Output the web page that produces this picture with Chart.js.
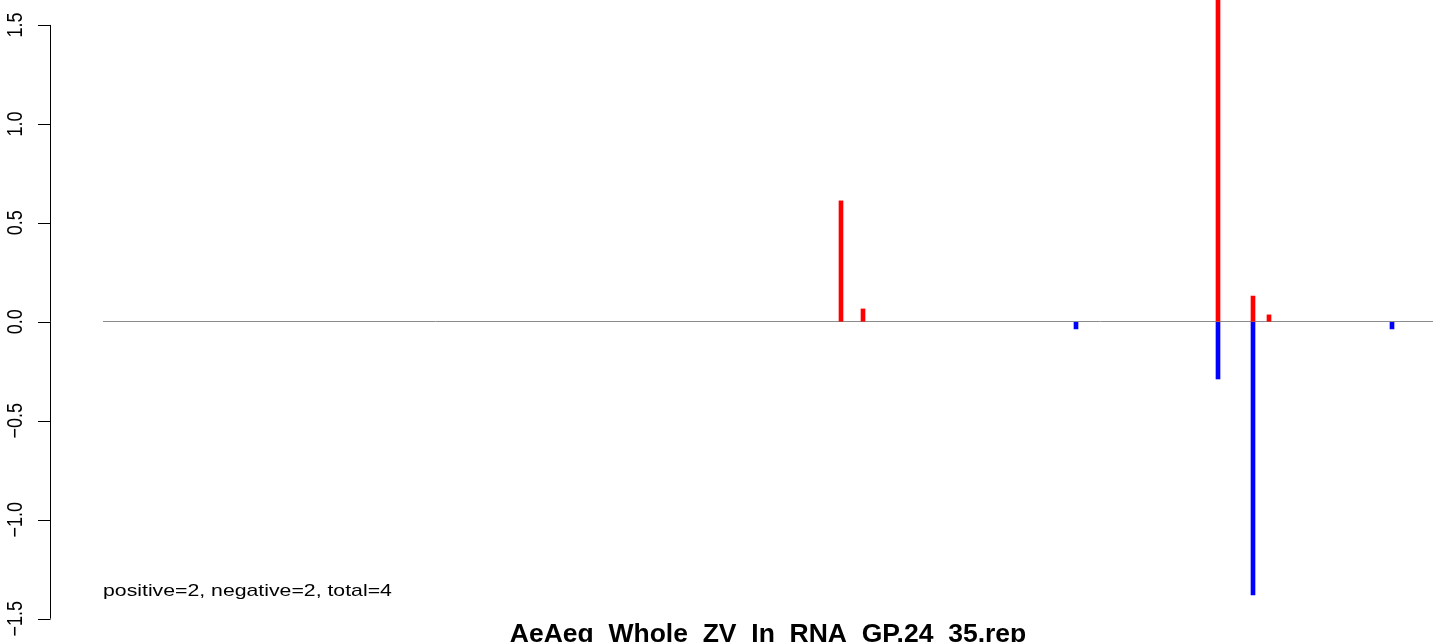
<!DOCTYPE html>
<html>
<head>
<meta charset="utf-8">
<script src="https://cdn.jsdelivr.net/npm/chart.js@4"></script>
<style>
  body { margin: 0; background: #fff; }
  canvas { display: block; }
</style>
</head>
<body>
<canvas id="chart" width="1433" height="642"></canvas>
<script>
// positions along the x range (0..1330) and values of each bar
const posX = [738, 760, 1115, 1150, 1166];
const posY = [0.611, 0.065, 2.4, 0.13, 0.035];
const negX = [973, 1115, 1150, 1289];
const negY = [-0.036, -0.289, -1.38, -0.036];
const yTicks = [-1.5, -1.0, -0.5, 0.0, 0.5, 1.0, 1.5];
const titleText = 'AeAeg_Whole_ZV_In_RNA_GP.24_35.rep';
const noteText = 'positive=2, negative=2, total=4';

const toPoints = (xs, ys) => xs.map((x, i) => ({ x: x, y: ys[i] }));

// R style left axis, rotated tick labels, note and title
const rAxis = {
  id: 'rAxis',
  afterDraw(chart) {
    const ctx = chart.ctx;
    const y = chart.scales.y;
    const ax = 50.5;
    ctx.save();
    ctx.strokeStyle = '#000';
    ctx.lineWidth = 1;
    ctx.beginPath();
    ctx.moveTo(ax, y.getPixelForValue(yTicks[yTicks.length - 1]));
    ctx.lineTo(ax, y.getPixelForValue(yTicks[0]));
    yTicks.forEach(t => {
      const py = Math.round(y.getPixelForValue(t)) + 0.5;
      ctx.moveTo(38, py);
      ctx.lineTo(ax, py);
    });
    ctx.stroke();

    ctx.fillStyle = '#000';
    ctx.font = '18px "Liberation Sans", Arial, sans-serif';
    ctx.textAlign = 'center';
    ctx.textBaseline = 'alphabetic';
    yTicks.forEach(t => {
      const label = t.toFixed(1).replace('-', '\u2212');
      ctx.save();
      ctx.translate(22, y.getPixelForValue(t));
      ctx.scale(1.22, 1);
      ctx.rotate(-Math.PI / 2);
      ctx.fillText(label, 0, 0);
      ctx.restore();
    });

    ctx.save();
    ctx.font = '17px "Liberation Sans", Arial, sans-serif';
    ctx.textAlign = 'left';
    ctx.translate(103, 596);
    ctx.scale(1.25, 1);
    ctx.fillText(noteText, 0, 0);
    ctx.restore();

    ctx.font = 'bold 26.5px "Liberation Sans", Arial, sans-serif';
    ctx.textAlign = 'center';
    ctx.fillText(titleText, 768, 642);
    ctx.restore();
  }
};

new Chart(document.getElementById('chart'), {
  type: 'bar',
  data: {
    datasets: [
      {
        data: toPoints(posX, posY),
        backgroundColor: '#ff0000',
        borderWidth: 0,
        barThickness: 4,
        grouped: false
      },
      {
        data: toPoints(negX, negY),
        backgroundColor: '#0000ff',
        borderWidth: 0,
        barThickness: 4,
        grouped: false
      }
    ]
  },
  options: {
    responsive: false,
    animation: false,
    layout: { padding: 0 },
    plugins: {
      legend: { display: false },
      tooltip: { enabled: false }
    },
    scales: {
      x: {
        type: 'linear',
        min: 0,
        max: 1330,
        offset: false,
        display: false
      },
      y: {
        type: 'linear',
        min: -1.618,
        max: 1.626,
        afterFit: (scale) => { scale.width = 103; },
        border: { display: false },
        ticks: { display: false, stepSize: 0.5, includeBounds: false },
        grid: {
          drawTicks: false,
          lineWidth: 1,
          color: (c) => (c.tick && c.tick.value === 0 ? '#8c8c8c' : 'rgba(0,0,0,0)')
        }
      }
    }
  },
  plugins: [rAxis]
});
</script>
</body>
</html>
